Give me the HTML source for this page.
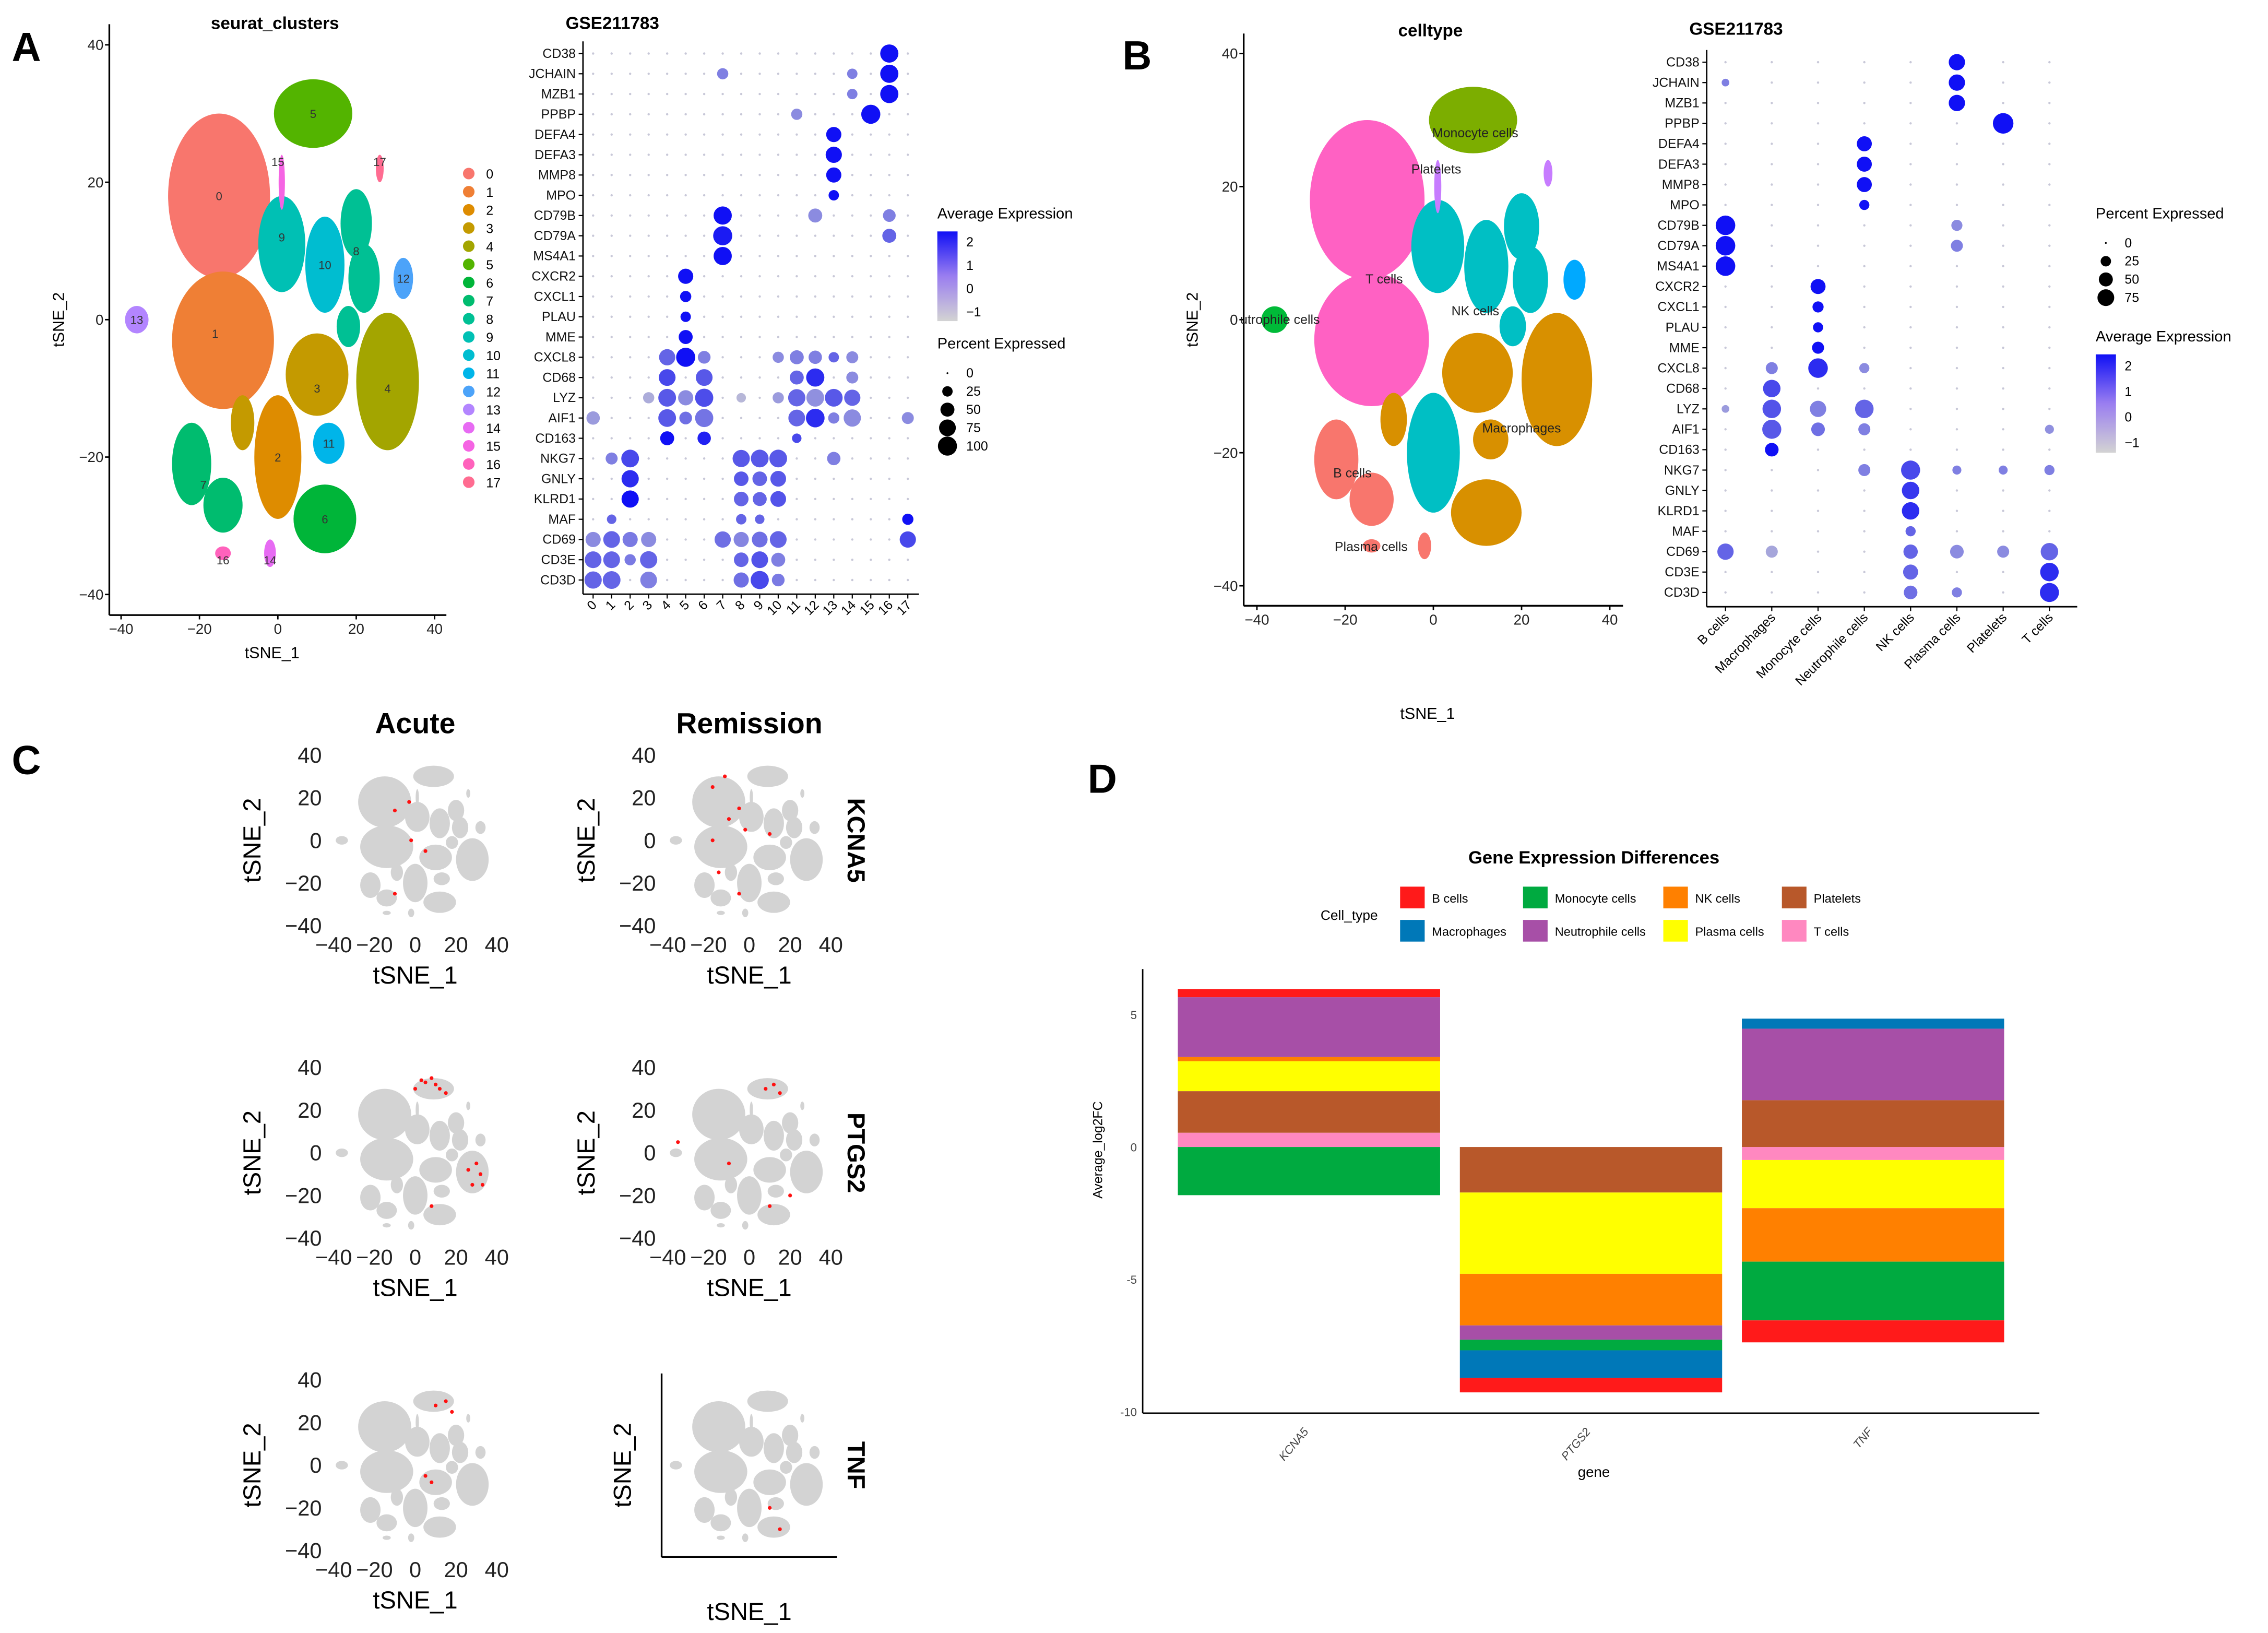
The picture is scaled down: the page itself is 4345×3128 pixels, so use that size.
<!DOCTYPE html>
<html><head><meta charset="utf-8"><style>
html,body{margin:0;padding:0;background:#fff}
svg{display:block}
text{font-family:"Liberation Sans",Arial,sans-serif}
</style></head><body>
<svg id="fig" xmlns="http://www.w3.org/2000/svg" width="4345" height="3128" viewBox="0 0 1568 1129">
<rect x="0" y="0" width="1568" height="1129" fill="#fff"/>
<g id="labels">
<text x="8" y="42" font-size="28" font-weight="bold">A</text>
<text x="776" y="48" font-size="28" font-weight="bold">B</text>
<text x="8" y="535" font-size="28" font-weight="bold">C</text>
<text x="752" y="548" font-size="28" font-weight="bold">D</text>
</g>
</svg>
<script>
const NS="http://www.w3.org/2000/svg";
const fig=document.getElementById('fig');
function mk(tag,attrs,parent,txt){const e=document.createElementNS(NS,tag);for(const k in attrs)e.setAttribute(k,attrs[k]);if(txt!==undefined)e.textContent=txt;(parent||fig).appendChild(e);return e;}

/* ---------- tSNE blobs (data coordinates) ---------- */
const clusterIds=[0,1,2,3,3,4,5,6,7,7,8,8,8,9,10,11,12,13,14,16,15,17];
const blobX=[-15,-14,0,10,-9,28,9,12,-22,-14,20,22,18,1,12,13,32,-36,-2,-14,1,26];
const blobY=[18,-3,-20,-8,-15,-9,30,-29,-21,-27,14,6,-1,11,8,-18,6,0,-34,-34,20,22];
const blobRX=[13,13,6,8,3,8,10,8,5,5,4,4,3,6,5,4,2.5,3,1.5,2,0.8,1];
const blobRY=[12,10,9,6,4,10,5,5,6,4,5,5,3,7,7,3,3,2,2,1,4,2];
const clusterColors=["#F8766D","#EF7F35","#DE8C00","#C49A00","#A3A500","#53B400","#00B539","#00BC6F","#00C094","#00C0B4","#00BDD0","#00B5E9","#4CA3F9","#B385FF","#E76BF3","#F564E3","#FF62BC","#FF6C91"];
const cellTypeOfBlob=["T","T","NK","Mac","Mac","Mac","Mono","Mac","B","B","NK","NK","NK","NK","NK","Mac","Pla","Neu","B","B","Plt","Plt"];
const ctColor={T:"#FF61C3",NK:"#00BFC4",Mac:"#D89000",Mono:"#7CAE00",B:"#F8766D",Pla:"#00A9FF",Neu:"#00BA38",Plt:"#C77CFF"};

function tsnePanel(g,ox,oy,kx,ky,colorFn,name){
  blobX.forEach((bx,i)=>{
    const e=mk('ellipse',{cx:ox+bx*kx,cy:oy-blobY[i]*ky,rx:blobRX[i]*kx,ry:blobRY[i]*ky,fill:colorFn(i)},g);
    
    
  });
}
function axesT(g,ox,oy,kx,ky,fs,opts){
  const x0=ox-43*kx,y0=oy+43*ky;
  if(opts.lines){
    mk('line',{x1:x0,y1:oy-43*ky,x2:x0,y2:y0,stroke:'#000','stroke-width':1.2},g);
    mk('line',{x1:x0,y1:y0,x2:ox+43*kx,y2:y0,stroke:'#000','stroke-width':1.2},g);
  }
  if(opts.ticks){
    [-40,-20,0,20,40].forEach(v=>{
      const t=mk('text',{x:ox+v*kx,y:y0+fs+(opts.tickGap||3),'font-size':fs,'text-anchor':'middle',fill:'#222'},g,v===0?'0':String(v).replace('-','−'));
      
      const t2=mk('text',{x:x0-4,y:oy-v*ky+fs*0.35,'font-size':fs,'text-anchor':'end',fill:'#222'},g,v===0?'0':String(v).replace('-','−'));
      
      if(opts.lines){mk('line',{x1:ox+v*kx,y1:y0,x2:ox+v*kx,y2:y0+3,stroke:'#000'},g);mk('line',{x1:x0,y1:oy-v*ky,x2:x0-3,y2:oy-v*ky,stroke:'#000'},g);}
    });
  }
}

/* Panel A tSNE */
const gA=mk('g',{});
tsnePanel(gA,192,221,2.71,4.75,i=>clusterColors[clusterIds[i]],'a');
axesT(gA,192,221,2.71,4.75,10,{lines:true,ticks:true});
mk('text',{x:190,y:20,'font-size':12,'font-weight':'bold','text-anchor':'middle'},gA,'seurat_clusters');
mk('text',{x:188,y:455,'font-size':11,'text-anchor':'middle'},gA,'tSNE_1');
mk('text',{x:44,y:221,'font-size':11,'text-anchor':'middle',transform:'rotate(-90 44 221)'},gA,'tSNE_2');
const lblA=[[0,-15,18],[1,-16,-2],[2,0,-20],[3,10,-10],[4,28,-10],[5,9,30],[6,12,-29],[7,-19,-24],[8,20,10],[9,1,12],[10,12,8],[11,13,-18],[12,32,6],[13,-36,0],[14,-2,-35],[15,0,23],[16,-14,-35],[17,26,23]];
lblA.forEach(l=>mk('text',{x:192+l[1]*2.71,y:221-l[2]*4.75+3,'font-size':8,'text-anchor':'middle',fill:'#333'},gA,l[0]));
for(let i=0;i<18;i++){
  const c=mk('circle',{cx:324,cy:120+i*12.55,r:4,fill:clusterColors[i]},gA);
  
  mk('text',{x:336,y:123.5+i*12.55,'font-size':9},gA,i);
}

/* Panel B tSNE */
const gB=mk('g',{});
tsnePanel(gB,991,221,3.05,4.6,i=>ctColor[cellTypeOfBlob[i]],'b');
axesT(gB,991,221,3.05,4.6,10,{lines:true,ticks:true});
mk('text',{x:989,y:25,'font-size':12,'font-weight':'bold','text-anchor':'middle'},gB,'celltype');
mk('text',{x:987,y:497,'font-size':11,'text-anchor':'middle'},gB,'tSNE_1');
mk('text',{x:828,y:221,'font-size':11,'text-anchor':'middle',transform:'rotate(-90 828 221)'},gB,'tSNE_2');
[["Monocyte cells",1020,95],["Platelets",993,120],["T cells",957,196],["NK cells",1020,218],["utrophile cells",885,224],["Macrophages",1052,299],["B cells",935,330],["Plasma cells",948,381]].forEach(l=>mk('text',{x:l[1],y:l[2],'font-size':9,'text-anchor':'middle',fill:'#222'},gB,l[0]));

/* ---------- Dot plots ---------- */
const genes=["CD38","JCHAIN","MZB1","PPBP","DEFA4","DEFA3","MMP8","MPO","CD79B","CD79A","MS4A1","CXCR2","CXCL1","PLAU","MME","CXCL8","CD68","LYZ","AIF1","CD163","NKG7","GNLY","KLRD1","MAF","CD69","CD3E","CD3D"];
const clusters=["0","1","2","3","4","5","6","7","8","9","10","11","12","13","14","15","16","17"];
const dotA_gene=["CD38","JCHAIN","JCHAIN","JCHAIN","MZB1","MZB1","PPBP","PPBP","DEFA4","DEFA3","MMP8","MPO","CD79B","CD79B","CD79B","CD79A","CD79A","MS4A1","CXCR2","CXCL1","PLAU","MME","CXCL8","CXCL8","CXCL8","CXCL8","CXCL8","CXCL8","CXCL8","CXCL8","CD68","CD68","CD68","CD68","CD68","LYZ","LYZ","LYZ","LYZ","LYZ","LYZ","LYZ","LYZ","LYZ","LYZ","AIF1","AIF1","AIF1","AIF1","AIF1","AIF1","AIF1","AIF1","AIF1","CD163","CD163","CD163","NKG7","NKG7","NKG7","NKG7","NKG7","NKG7","GNLY","GNLY","GNLY","GNLY","KLRD1","KLRD1","KLRD1","KLRD1","MAF","MAF","MAF","MAF","CD69","CD69","CD69","CD69","CD69","CD69","CD69","CD69","CD69","CD3E","CD3E","CD3E","CD3E","CD3E","CD3E","CD3E","CD3D","CD3D","CD3D","CD3D","CD3D","CD3D"];
const dotA_cl=[16,16,7,14,16,14,15,11,13,13,13,13,7,12,16,7,16,7,5,5,5,5,4,5,6,10,11,12,13,14,4,6,11,12,14,3,4,5,6,8,10,11,12,13,14,0,4,5,6,11,12,13,14,17,4,6,11,1,2,8,9,10,13,2,8,9,10,2,8,9,10,1,8,9,17,0,1,2,3,7,8,9,10,17,0,1,2,3,8,9,10,0,1,3,8,9,10];
const dotA_pct=[90,90,30,25,90,25,100,30,60,70,60,25,90,50,40,100,50,90,60,30,25,50,70,100,40,30,50,45,25,35,75,75,50,90,35,30,85,60,90,20,30,80,85,85,70,45,85,40,90,75,95,30,80,35,50,45,20,35,85,80,85,85,45,80,55,55,65,80,55,50,65,20,25,20,30,60,75,60,60,70,60,65,75,70,75,75,30,80,55,75,50,80,85,75,60,90,40];
const dotA_avg=[2.5,2.5,0.5,0.5,2.5,0.5,2.5,0.3,2.5,2.5,2.5,2.5,2.5,0.3,0.5,2.3,1,2.5,2.5,2.5,2.5,2.5,1,2.5,0.5,0.3,0.5,0.5,1,0.3,1.5,1.2,1,2,0.3,-0.3,1.2,0.3,1.4,-0.5,0,1,0.2,1.2,1,0,1.2,0.8,0.7,1,2,0.5,0.3,0.3,2.5,2.2,1.5,0.5,1.5,1.2,1.2,1.2,0.5,2,1.2,1,1.2,2.5,1,1,1.3,1,1,1,2.5,0.3,1,0.6,0.3,0.8,0.4,0.8,1,1.5,1,1,0.6,1,1,1.3,0.5,1,1,0.5,0.8,1.5,0.6];
const cellTypes=["B cells","Macrophages","Monocyte cells","Neutrophile cells","NK cells","Plasma cells","Platelets","T cells"];
const dotB_gene=["CD38","JCHAIN","JCHAIN","MZB1","PPBP","DEFA4","DEFA3","MMP8","MPO","CD79B","CD79B","CD79A","CD79A","MS4A1","CXCR2","CXCL1","PLAU","MME","CXCL8","CXCL8","CXCL8","CD68","LYZ","LYZ","LYZ","LYZ","AIF1","AIF1","AIF1","AIF1","CD163","NKG7","NKG7","NKG7","NKG7","NKG7","GNLY","KLRD1","MAF","CD69","CD69","CD69","CD69","CD69","CD69","CD3E","CD3E","CD3D","CD3D","CD3D"];
const dotB_ct=[5,5,0,5,6,3,3,3,3,0,5,0,5,0,2,2,2,2,2,1,3,1,1,2,3,0,1,2,3,7,1,4,3,5,6,7,4,4,4,0,1,4,5,6,7,4,7,4,5,7];
const dotB_pct=[60,60,10,60,100,50,50,50,20,90,25,90,30,90,50,25,20,30,90,30,20,70,80,60,80,10,85,40,30,15,40,85,30,15,15,20,70,70,20,60,30,45,40,30,70,50,80,40,20,85];
const dotB_avg=[2.5,2.5,0.5,2.5,2.5,2.5,2.5,2.5,2.5,2.5,0.3,2.5,0.5,2.5,2.5,2.5,2.5,2.5,2,0.5,0.3,1.5,1.3,0.5,1,0,1.2,0.8,0.5,0.2,2.5,1.5,0.5,0.5,0.5,0.5,1.8,2,1,1,-0.2,1,0.3,0.3,1,1,2,0.8,0.5,2];

function expColor(v){let t=(Math.max(-1,Math.min(2.5,v))+1)/3.5;const r=Math.round(211*(1-t)+16*t),g=Math.round(211*(1-t)+16*t),b=Math.round(211*(1-t)+245*t);return `rgb(${r},${g},${b})`;}
function dotPlot(opts){
  const g=mk('g',{});
  const cx=i=>opts.x0+i*opts.dx, cy=j=>opts.y0+j*opts.dy, rr=p=>0.6+opts.rmax*Math.sqrt(p/100);
  genes.forEach((gn,j)=>{
    opts.cats.forEach((c,i)=>{
      const d=mk('circle',{cx:cx(i),cy:cy(j),r:0.8,fill:'#c8c8d8'},g);
      
    });
    mk('text',{x:opts.ax-5,y:cy(j)+3,'font-size':9,'text-anchor':'end',fill:'#111'},g,gn);
    mk('line',{x1:opts.ax-3,y1:cy(j),x2:opts.ax,y2:cy(j),stroke:'#000','stroke-width':0.8},g);
  });
  opts.dg.forEach((gn,k)=>{
    const d=mk('circle',{cx:cx(opts.dc[k]),cy:cy(genes.indexOf(gn)),r:rr(opts.dp[k]),fill:expColor(opts.da[k])},g);
    
  });
  const yb=cy(genes.length-1)+opts.dy*0.7;
  mk('line',{x1:opts.ax,y1:cy(0)-opts.dy*0.6,x2:opts.ax,y2:yb,stroke:'#000','stroke-width':1},g);
  mk('line',{x1:opts.ax,y1:yb,x2:cx(opts.cats.length-1)+opts.dx*0.6,y2:yb,stroke:'#000','stroke-width':1},g);
  opts.cats.forEach((c,i)=>{
    mk('line',{x1:cx(i),y1:yb,x2:cx(i),y2:yb+3,stroke:'#000','stroke-width':0.8},g);
    mk('text',{x:cx(i)+3,y:yb+8,'font-size':9,'text-anchor':'end',transform:`rotate(-45 ${cx(i)+3} ${yb+8})`},g,c);
  });
  mk('text',{x:opts.ax-12,y:opts.ty,'font-size':12,'font-weight':'bold'},g,'GSE211783');
  return g;
}
const gDA=dotPlot({name:'dotplot-clusters',cats:clusters,x0:410,dx:12.8,y0:37,dy:14.0,ax:403,rmax:6,dg:dotA_gene,dc:dotA_cl,dp:dotA_pct,da:dotA_avg,ty:20});
const gDB=dotPlot({name:'dotplot-celltypes',cats:cellTypes,x0:1193,dx:32,y0:43,dy:14.1,ax:1180,rmax:6.5,dg:dotB_gene,dc:dotB_ct,dp:dotB_pct,da:dotB_avg,ty:24});

/* dot legends */
const defs=mk('defs',{});
const lg=mk('linearGradient',{id:'expg',x1:0,y1:1,x2:0,y2:0},defs);
mk('stop',{offset:'0', 'stop-color':'#d3d3d3'},lg);mk('stop',{offset:'0.5','stop-color':'#9a7ef0'},lg);mk('stop',{offset:'1','stop-color':'#1010f5'},lg);
function expLegend(x,y,h){
  const g=mk('g',{});
  mk('text',{x:x,y:y,'font-size':10.5},g,'Average Expression');
  mk('rect',{x:x,y:y+9,width:14,height:h,fill:'url(#expg)'},g);
  [2,1,0,-1].forEach((v,i)=>mk('text',{x:x+20,y:y+9+h*(0.12+i*0.26)+3,'font-size':9},g,v<0?'−1':v));
}
function pctLegend(x,y,vals){
  const g=mk('g',{});
  mk('text',{x:x,y:y,'font-size':10.5},g,'Percent Expressed');
  vals.forEach((v,i)=>{mk('circle',{cx:x+7,cy:y+17+i*12.6,r:0.6+6*Math.sqrt(v/100),fill:'#000'},g);mk('text',{x:x+20,y:y+20+i*12.6,'font-size':9},g,v);});
}
expLegend(648,151,62);pctLegend(648,241,[0,25,50,75,100]);
pctLegend(1449,151,[0,25,50,75]);expLegend(1449,236,68);

/* ---------- Panel C ---------- */
const acuteRed=[[[ -10,14],[-2,0],[5,-5],[-3,18],[-10,-25]],[[0,30],[5,33],[10,32],[15,28],[8,35],[3,34],[12,30],[30,-5],[32,-10],[28,-15],[33,-15],[26,-8],[8,-25]],[[10,28],[18,25],[15,30],[5,-5],[8,-8]]];
const remRed=[[[-18,25],[-12,30],[-10,10],[-5,15],[-2,5],[-18,0],[-15,-15],[-5,-25],[10,3]],[[8,30],[12,32],[15,28],[-10,-5],[-35,5],[20,-20],[10,-25]],[[10,-20],[15,-30]]];
const cRowsY=[581,797,1013], cColsX=[287,518];
const cLabels=["KCNA5","PTGS2","TNF"];
for(let r=0;r<3;r++){for(let c=0;c<2;c++){
  const g=mk('g',{});
  const ox=cColsX[c],oy=cRowsY[r],kx=1.41,ky=1.475;
  tsnePanel(g,ox,oy,kx,ky,()=>'#d3d3d3','c');
  const reds=(c?remRed:acuteRed)[r];
  reds.forEach(p=>{const d=mk('circle',{cx:ox+p[0]*kx,cy:oy-p[1]*ky,r:1.3,fill:'#ff1010'},g);});
  const last=(r===2&&c===1);
  axesT(g,ox,oy,kx,ky,15,{lines:last,ticks:!last,tickGap:-1});
  mk('text',{x:ox,y:oy+99+(last?8:0),'font-size':17,'text-anchor':'middle'},g,'tSNE_1');
  const yx=ox-107+(last?25:0);
  mk('text',{x:yx,y:oy,'font-size':17,'text-anchor':'middle',transform:`rotate(-90 ${yx} ${oy})`},g,'tSNE_2');
}
 mk('text',{x:586,y:cRowsY[r],'font-size':17,'font-weight':'bold','text-anchor':'middle',transform:`rotate(90 586 ${cRowsY[r]})`},fig,cLabels[r]);
}
mk('text',{x:287,y:507,'font-size':20,'font-weight':'bold','text-anchor':'middle'},fig,'Acute');
mk('text',{x:518,y:507,'font-size':20,'font-weight':'bold','text-anchor':'middle'},fig,'Remission');

/* ---------- Panel D stacked bar ---------- */
const dGenes=["KCNA5","PTGS2","TNF"];
const dTypes=["T cells","Platelets","Plasma cells","NK cells","Neutrophile cells","Monocyte cells","Macrophages","B cells"];
const dColors=["#FF88C0","#B8582A","#FFFF00","#FF8000","#A74FA7","#00AA40","#0078B8","#FF1A1A"];
const vKCNA5=[0.54,1.57,1.13,0.16,2.26,-1.82,0,0.31];
const vPTGS2=[0,-1.72,-3.07,-1.95,-0.54,-0.40,-1.04,-0.55];
const vTNF=[-0.49,1.77,-1.82,-2.02,2.70,-2.22,0.38,-0.83];
const dVals=[vKCNA5,vPTGS2,vTNF];
const yTicks=[5,0,-5,-10];
const gD=mk('g',{});
const dY=v=>793-v*18.3, dX=i=>905+i*195, bw=195*0.93;
dVals.forEach((vals,i)=>{
  let pos=0,neg=0;
  vals.forEach((v,k)=>{
    if(v===0)return;
    let a,b;if(v>0){a=pos;b=pos+v;pos=b;}else{a=neg;b=neg+v;neg=b;}
    const r=mk('rect',{x:dX(i)-bw/2,y:dY(Math.max(a,b)),width:bw,height:Math.abs(dY(a)-dY(b)),fill:dColors[k]},gD);
    
    
  });
  const tx=dX(i),ty=990;
  const t=mk('text',{x:tx,y:ty,'font-size':8,'text-anchor':'end',fill:'#444','font-style':'italic',transform:`rotate(-50 ${tx} ${ty})`},gD,dGenes[i]);
  
});
mk('line',{x1:790,y1:670,x2:790,y2:977,stroke:'#000','stroke-width':1},gD);
mk('line',{x1:790,y1:977,x2:1410,y2:977,stroke:'#000','stroke-width':1},gD);
yTicks.forEach(v=>{const t=mk('text',{x:786,y:dY(v)+3,'font-size':8,'text-anchor':'end',fill:'#444'},gD,v<0?'-'+(-v):v);});
mk('text',{x:1102,y:1021,'font-size':10,'text-anchor':'middle'},gD,'gene');
mk('text',{x:762,y:795,'font-size':9,'text-anchor':'middle',transform:'rotate(-90 762 795)'},gD,'Average_log2FC');
mk('text',{x:1102,y:597,'font-size':12.5,'font-weight':'bold','text-anchor':'middle'},gD,'Gene Expression Differences');
mk('text',{x:913,y:636,'font-size':9.5},gD,'Cell_type');
const legOrder=["B cells","Macrophages","Monocyte cells","Neutrophile cells","NK cells","Plasma cells","Platelets","T cells"];
const legX=[968,1053,1150,1232];
legOrder.forEach((n,i)=>{
  const col=Math.floor(i/2),row=i%2,x=legX[col],y=613+row*23;
  const k=dTypes.indexOf(n);
  const r=mk('rect',{x:x,y:y,width:17,height:15,fill:dColors[k]},gD);
  
  
  mk('text',{x:x+22,y:y+11,'font-size':8.5},gD,n);
});
</script>
</body></html>
